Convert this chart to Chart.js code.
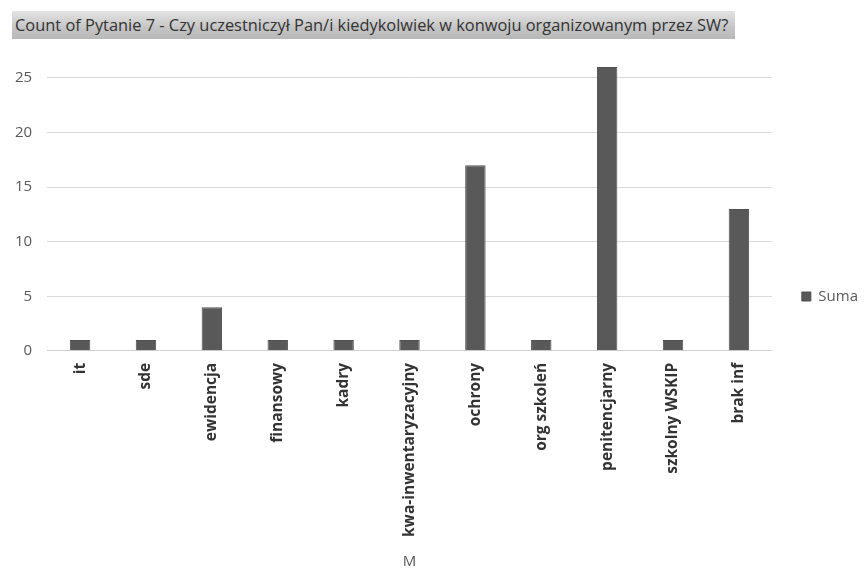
<!DOCTYPE html>
<html>
<head>
<meta charset="utf-8">
<title>Pytanie 7</title>
<script src="https://cdn.jsdelivr.net/npm/chart.js"></script>
<style>
  html, body { margin: 0; padding: 0; background: #fff; }
  #wrap { position: relative; width: 864px; height: 571px; }
  #title {
    position: absolute; left: 12px; top: 11px; width: 723px; height: 28px;
    background: linear-gradient(#e4e4e4, #c4c4c4 60%, #b8b8b8);
    font-family: 'Open Sans', sans-serif;
    font-size: 16.4px; color: #333; line-height: 28px; padding-left: 3px; box-sizing: border-box;
    white-space: nowrap;
  }
  canvas { position: absolute; left: 0; top: 0; }
</style>
</head>
<body>
<div id="wrap">
  <div id="title">Count of Pytanie 7 - Czy uczestniczył Pan/i kiedykolwiek w konwoju organizowanym przez SW?</div>
  <canvas id="chart" width="864" height="571"></canvas>
</div>
<script>
// Data
const categories = ['it', 'sde', 'ewidencja', 'finansowy', 'kadry', 'kwa-inwentaryzacyjny',
  'ochrony', 'org szkoleń', 'penitencjarny', 'szkolny WSKIP', 'brak inf'];
const sumaValues = [1, 1, 4, 1, 1, 1, 17, 1, 26, 1, 13];
const yTicks = [0, 5, 10, 15, 20, 25];

const font = "'Open Sans', sans-serif";

// legend sits a bit above the vertical centre and further right in the original
const legendShift = {
  id: 'legendShift',
  afterLayout(chart) {
    chart.legend.top -= 17;
    chart.legend.bottom -= 17;
    chart.legend.left += 20;
    chart.legend.right += 20;
  }
};

const ctx = document.getElementById('chart').getContext('2d');
new Chart(ctx, {
  type: 'bar',
  data: {
    labels: categories,
    datasets: [{
      label: 'Suma',
      data: sumaValues,
      backgroundColor: '#595959',
      borderColor: '#505050',
      borderWidth: 1,
      barPercentage: 0.31,
      categoryPercentage: 1.0
    }]
  },
  options: {
    responsive: false,
    animation: false,
    layout: { padding: { top: 56, left: 0, right: 16, bottom: 0 } },
    plugins: {
      legend: {
        position: 'right',
        labels: {
          boxWidth: 9, boxHeight: 9, padding: 10,
          color: '#595959',
          font: { family: font, size: 15 }
        }
      },
      tooltip: { enabled: false }
    },
    scales: {
      y: {
        min: 0,
        max: 27,
        afterBuildTicks: scale => { scale.ticks = yTicks.map(v => ({ value: v })); },
        grid: { color: '#d9d9d9', drawTicks: false },
        border: { display: false },
        ticks: { color: '#595959', padding: 15, font: { family: font, size: 15 } }
      },
      x: {
        grid: { display: false },
        border: { color: '#d0d0d0', width: 1 },
        ticks: {
          minRotation: 90, maxRotation: 90, padding: 4,
          color: '#333',
          font: { family: font, size: 15.5, weight: 'bold' }
        },
        title: {
          display: true, text: 'M', color: '#595959',
          font: { family: font, size: 15 }, padding: { top: 12, bottom: 0 }
        }
      }
    }
  },
  plugins: [legendShift]
});
</script>
</body>
</html>
